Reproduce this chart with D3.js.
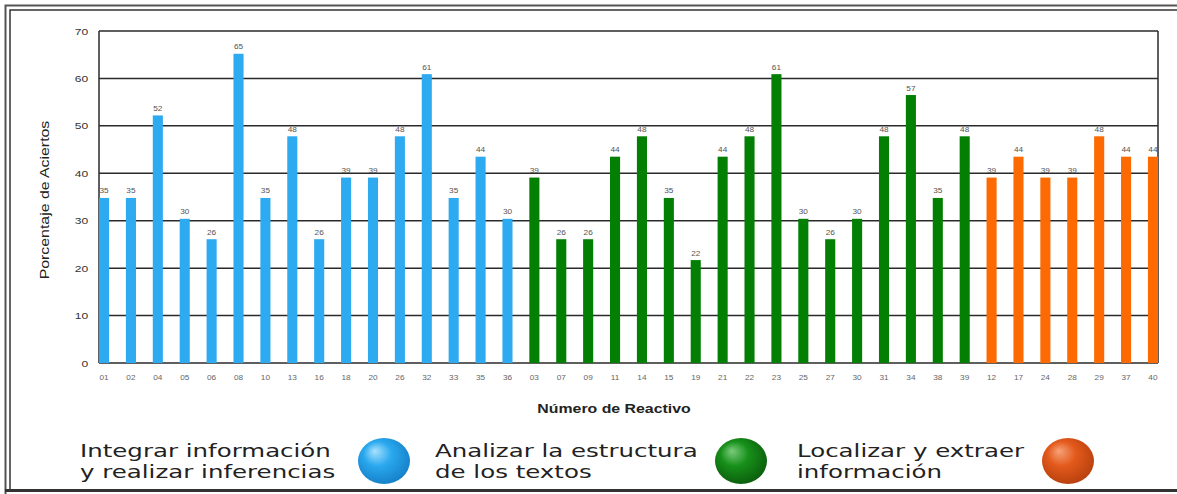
<!DOCTYPE html>
<html>
<head>
<meta charset="utf-8">
<script src="https://cdn.jsdelivr.net/npm/d3@7/dist/d3.min.js"></script>
<style>
  html, body { margin: 0; padding: 0; background: #fff; }
  svg { display: block; }
</style>
</head>
<body>
<svg id="chart" width="1177" height="494"></svg>
<script>
// ---------------- DATA ----------------
const integrarCodes  = ["01","02","04","05","06","08","10","13","16","18","20","26","32","33","35","36"];
const integrarValues = [34.8,34.8,52.2,30.4,26.1,65.2,34.8,47.8,26.1,39.1,39.1,47.8,60.9,34.8,43.5,30.4];

const analizarCodes  = ["03","07","09","11","14","15","19","21","22","23","25","27","30","31","34","38","39"];
const analizarValues = [39.1,26.1,26.1,43.5,47.8,34.8,21.7,43.5,47.8,60.9,30.4,26.1,30.4,47.8,56.5,34.8,47.8];

const localizarCodes  = ["12","17","24","28","29","37","40"];
const localizarValues = [39.1,43.5,39.1,39.1,47.8,43.5,43.5];

const yTicks = [0,10,20,30,40,50,60,70];
const groupNames = ["Integrar", "Analizar", "Localizar"];
const legendLines = [
  ["Integrar información", "y realizar inferencias"],
  ["Analizar la estructura", "de los textos"],
  ["Localizar y extraer", "información"]
];
const yTitle = "Porcentaje de Aciertos";
const xTitle = "Número de Reactivo";

// ---------------- STYLE / LAYOUT ----------------
const colors = { Integrar: "#2eaaf0", Analizar: "#037f03", Localizar: "#fd6a02" };
const sx = 1.27; // horizontal text stretch seen in the reference
const plot = { left: 99, right: 1158, top: 31, bottom: 363 };

const rows = [];
[[integrarCodes, integrarValues, "Integrar"],
 [analizarCodes, analizarValues, "Analizar"],
 [localizarCodes, localizarValues, "Localizar"]].forEach(([c, v, g]) => {
  c.forEach((code, i) => rows.push({ code, value: v[i], group: g }));
});

const svg = d3.select("#chart");

const x = d3.scaleBand()
  .domain(rows.map(d => d.code))
  .range([plot.left, plot.right])
  .paddingInner(0.625)
  .paddingOuter(0);

const y = d3.scaleLinear().domain([0, 70]).range([plot.bottom, plot.top]);

// outer double border
const border = svg.append("g").attr("fill", "none");
border.append("path").attr("d", "M5.5,494 V5.5 H1177").attr("stroke", "#555").attr("stroke-width", 2);
border.append("path").attr("d", "M10,490 V10 H1177").attr("stroke", "#333").attr("stroke-width", 1.5);
border.append("path").attr("d", "M5,490.5 H1177").attr("stroke", "#333").attr("stroke-width", 3);

// gridlines
svg.append("g")
  .selectAll("line")
  .data(yTicks.filter(t => t > 0))
  .join("line")
  .attr("x1", plot.left).attr("x2", plot.right)
  .attr("y1", d => y(d)).attr("y2", d => y(d))
  .attr("stroke", "#2a2a2a").attr("stroke-width", 1.5);

// frame sides
svg.append("line").attr("x1", plot.left).attr("x2", plot.left)
  .attr("y1", plot.top).attr("y2", plot.bottom).attr("stroke", "#2a2a2a").attr("stroke-width", 1.5);
svg.append("line").attr("x1", plot.right).attr("x2", plot.right)
  .attr("y1", plot.top).attr("y2", plot.bottom).attr("stroke", "#2a2a2a").attr("stroke-width", 1.5);

// baseline
svg.append("line").attr("x1", plot.left).attr("x2", plot.right)
  .attr("y1", y(0)).attr("y2", y(0)).attr("stroke", "#2a2a2a").attr("stroke-width", 1.5);

// bars
svg.append("g")
  .selectAll("rect")
  .data(rows)
  .join("rect")
  .attr("x", d => x(d.code))
  .attr("width", x.bandwidth())
  .attr("y", d => y(d.value))
  .attr("height", d => y(0) - y(d.value))
  .attr("fill", d => colors[d.group]);

// value labels
const fmt = d3.format(".0f");
svg.append("g")
  .selectAll("text")
  .data(rows)
  .join("text")
  .attr("transform", d => `translate(${x(d.code) + x.bandwidth() / 2},${y(d.value) - 4.5}) scale(${sx},1)`)
  .attr("text-anchor", "middle")
  .attr("font-family", "Liberation Sans, Arial, sans-serif")
  .attr("font-size", 6.5)
  .attr("fill", "#555")
  .text(d => fmt(d.value));

// y axis
const yAxis = svg.append("g")
  .attr("transform", `translate(${plot.left},0)`)
  .call(d3.axisLeft(y).tickValues(yTicks).tickSize(0).tickPadding(8.5).tickFormat(d3.format("d")));
yAxis.select(".domain").remove();
yAxis.selectAll("text")
  .attr("font-family", "Liberation Sans, Arial, sans-serif")
  .attr("font-size", 9.5)
  .attr("fill", "#333")
  .attr("transform", `scale(${sx},1)`);

// x axis
const xAxis = svg.append("g")
  .attr("transform", `translate(0,${plot.bottom})`)
  .call(d3.axisBottom(x).tickSize(0).tickPadding(12));
xAxis.select(".domain").remove();
xAxis.selectAll("text")
  .attr("font-family", "Liberation Sans, Arial, sans-serif")
  .attr("font-size", 6.5)
  .attr("fill", "#666")
  .attr("transform", `scale(${sx},1)`);

// axis titles
svg.append("text")
  .attr("transform", `translate(49,${(plot.top + plot.bottom) / 2 + 3}) rotate(-90) scale(${sx},1)`)
  .attr("text-anchor", "middle")
  .attr("font-family", "Liberation Sans, Arial, sans-serif")
  .attr("font-size", 12.5)
  .attr("fill", "#222")
  .text(yTitle);

svg.append("text")
  .attr("transform", `translate(614,413) scale(${sx},1)`)
  .attr("text-anchor", "middle")
  .attr("font-family", "Liberation Sans, Arial, sans-serif")
  .attr("font-weight", "bold")
  .attr("font-size", 12.5)
  .attr("fill", "#222")
  .text(xTitle);

// legend
const defs = svg.append("defs");
const sphereStops = {
  Integrar:  ["#a8e2ff", "#2aa8ee", "#1580c8"],
  Analizar:  ["#7ccc7c", "#17901a", "#0b5e0c"],
  Localizar: ["#f7a27a", "#e35a1c", "#b8400e"]
};
groupNames.forEach(g => {
  const grad = defs.append("radialGradient")
    .attr("id", "sphere-" + g)
    .attr("cx", "45%").attr("cy", "42%").attr("r", "60%")
    .attr("fx", "32%").attr("fy", "28%");
  grad.append("stop").attr("offset", "0%").attr("stop-color", sphereStops[g][0]);
  grad.append("stop").attr("offset", "45%").attr("stop-color", sphereStops[g][1]);
  grad.append("stop").attr("offset", "100%").attr("stop-color", sphereStops[g][2]);
});

const legendTextX = [80, 435, 797];
const legendCircleX = [384, 741, 1068];
const legend = svg.append("g");
groupNames.forEach((g, i) => {
  legendLines[i].forEach((line, j) => {
    legend.append("text")
      .attr("font-family", "DejaVu Sans, sans-serif")
      .attr("font-size", 17)
      .attr("fill", "#222")
      .attr("transform", `translate(${legendTextX[i]},${457 + j * 20.5}) scale(1.44,1)`)
      .text(line);
  });
  legend.append("ellipse")
    .attr("cx", legendCircleX[i]).attr("cy", 461)
    .attr("rx", 26).attr("ry", 23)
    .attr("fill", `url(#sphere-${g})`);
});
</script>
</body>
</html>
